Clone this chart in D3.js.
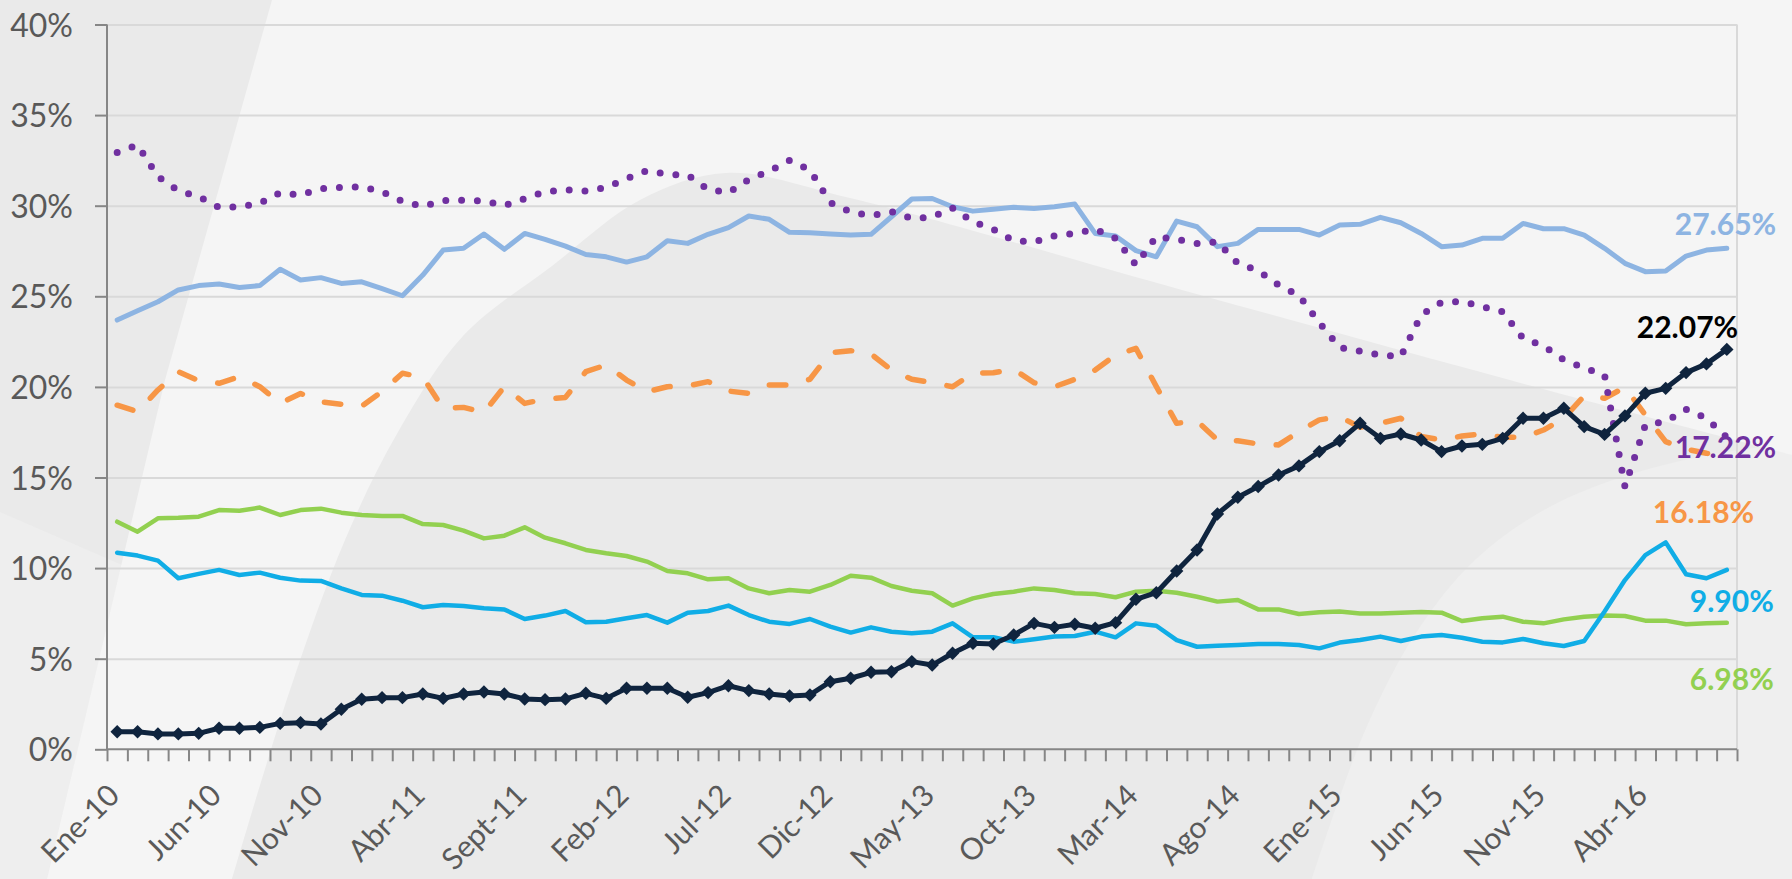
<!DOCTYPE html>
<html>
<head>
<meta charset="utf-8">
<script src="https://cdn.jsdelivr.net/npm/d3@7"></script>
<style>
html, body { margin: 0; padding: 0; background: #eaeaea; overflow: hidden; }
svg { display: block; font-family: Lato, "Open Sans", sans-serif; }
</style>
</head>
<body>
<svg id="chart" width="1792" height="879"></svg>
<script>
// Monthly categories, Ene-10 .. Ago-16 (80 months)
const monthNames = ["Ene","Feb","Mar","Abr","May","Jun","Jul","Ago","Sept","Oct","Nov","Dic"];
const categories = d3.range(80).map(i => monthNames[i % 12] + "-" + (10 + Math.floor(i / 12)));
const tickLabels = ["Ene-10","Jun-10","Nov-10","Abr-11","Sept-11","Feb-12","Jul-12","Dic-12",
  "May-13","Oct-13","Mar-14","Ago-14","Ene-15","Jun-15","Nov-15","Abr-16"];
const yTicks = [0, 5, 10, 15, 20, 25, 30, 35, 40];

// series values (%)
const lightBlue = [23.69,24.2,24.7,25.35,25.59,25.68,25.49,25.59,26.49,25.9,26.03,25.71,25.8,25.42,25.03,26.17,
  27.55,27.65,28.44,27.59,28.47,28.14,27.77,27.31,27.18,26.89,27.18,28.07,27.92,28.42,28.79,29.43,29.25,28.53,
  28.51,28.44,28.38,28.42,29.39,30.37,30.4,29.94,29.7,29.81,29.91,29.85,29.94,30.09,28.47,28.33,27.52,27.18,
  29.15,28.84,27.74,27.92,28.69,28.69,28.69,28.38,28.93,28.97,29.36,29.06,28.47,27.74,27.83,28.2,28.2,29.02,
  28.73,28.73,28.38,27.65,26.82,26.36,26.39,27.22,27.55,27.65];
const purple = [32.93,33.35,31.6,30.83,30.5,29.91,29.94,30.13,30.72,30.59,30.94,31.01,31.05,30.77,30.24,29.96,
  30.28,30.31,30.26,30.0,30.39,30.77,30.88,30.81,31.01,31.49,31.93,31.73,31.69,30.9,30.72,31.45,31.91,32.5,
  31.97,30.17,29.65,29.45,29.67,29.3,29.37,29.87,29.12,28.7,28.07,28.0,28.34,28.47,28.7,28.2,26.73,28.29,
  28.14,27.92,28.0,26.82,26.41,25.62,25.05,23.55,22.17,21.98,21.76,21.67,23.97,24.67,24.71,24.43,24.15,22.68,
  22.26,21.49,21.05,20.66,14.5,17.9,18.08,18.76,18.27,17.22];
const orange = [18.99,18.63,19.83,20.84,20.34,20.2,20.56,20.01,19.09,19.64,19.18,19.04,18.94,19.74,20.75,20.53,
  18.82,18.87,18.59,20.01,19.09,19.33,19.42,20.84,21.21,20.38,19.73,20.01,20.05,20.29,19.77,19.64,20.1,20.1,
  20.42,21.89,22.0,21.81,20.93,20.42,20.23,20.01,20.75,20.78,20.97,20.23,20.01,20.42,20.93,21.76,22.13,20.02,
  17.99,18.12,17.07,17.03,16.85,16.8,17.53,18.18,18.36,17.77,17.99,18.27,17.26,17.07,17.29,17.4,17.22,17.22,
  17.62,18.27,19.5,19.37,19.98,18.45,16.98,16.56,16.34,16.18];
const navy = [0.97,0.97,0.85,0.85,0.88,1.16,1.16,1.21,1.43,1.47,1.4,2.21,2.76,2.85,2.85,3.05,
  2.81,3.05,3.16,3.05,2.78,2.74,2.78,3.09,2.81,3.37,3.37,3.37,2.87,3.13,3.51,3.24,3.05,2.94,
  3.0,3.73,3.92,4.25,4.28,4.84,4.65,5.3,5.85,5.81,6.31,6.95,6.73,6.9,6.68,6.99,8.28,8.64,
  9.84,11.0,12.99,13.91,14.5,15.14,15.64,16.43,17.03,17.99,17.16,17.4,17.07,16.43,16.74,16.83,17.16,18.27,
  18.27,18.82,17.81,17.38,18.4,19.65,19.92,20.79,21.27,22.07];
const cyan = [10.85,10.69,10.41,9.44,9.68,9.9,9.62,9.75,9.47,9.31,9.29,8.88,8.52,8.48,8.2,7.84,
  7.96,7.91,7.78,7.72,7.19,7.38,7.63,7.01,7.04,7.23,7.41,6.99,7.54,7.63,7.93,7.41,7.04,6.92,
  7.19,6.77,6.44,6.73,6.49,6.4,6.49,6.95,6.18,6.18,5.94,6.07,6.22,6.25,6.49,6.18,6.95,6.82,
  6.03,5.66,5.72,5.76,5.81,5.81,5.76,5.57,5.89,6.03,6.22,5.98,6.22,6.31,6.16,5.94,5.9,6.09,
  5.85,5.7,5.98,7.6,9.34,10.72,11.42,9.66,9.44,9.9];
const green = [12.56,12.01,12.75,12.78,12.84,13.2,13.17,13.34,12.93,13.2,13.28,13.06,12.93,12.88,12.88,12.43,
  12.38,12.07,11.64,11.79,12.25,11.68,11.37,11.0,10.82,10.67,10.36,9.84,9.71,9.38,9.44,8.88,8.61,8.79,
  8.7,9.07,9.58,9.47,9.01,8.75,8.61,7.93,8.33,8.57,8.7,8.88,8.79,8.61,8.57,8.39,8.7,8.75,
  8.64,8.42,8.15,8.24,7.72,7.72,7.47,7.56,7.6,7.5,7.5,7.54,7.58,7.54,7.08,7.23,7.32,7.04,
  6.95,7.17,7.32,7.38,7.36,7.1,7.1,6.9,6.95,6.98];

// drawing order and styles (bottom to top)
const series = [
  { values: green,     color: "#92D050", width: 4.5 },
  { values: cyan,      color: "#10ADE6", width: 4.5 },
  { values: lightBlue, color: "#8DB4E2", width: 5 },
  { values: orange,    color: "#F79646", width: 5.5, dash: "16.5 23.5" },
  { values: purple,    color: "#7030A0", width: 7, dash: "0 15.8" },
  { values: navy,      color: "#0F243E", width: 5, marker: true }
];
// end-of-line labels: offsets from the last point
const endLabels = [
  { values: lightBlue, color: "#8DB4E2", dx: -52, dy: -13 },
  { values: navy,      color: "#000000", dx: -90, dy: -11 },
  { values: purple,    color: "#7030A0", dx: -52, dy: 21 },
  { values: orange,    color: "#F79646", dx: -74, dy: 67 },
  { values: cyan,      color: "#10ADE6", dx: -37, dy: 42 },
  { values: green,     color: "#92D050", dx: -37, dy: 67 }
];

const svg = d3.select("#chart");
const W = 1792, H = 879;
const plotLeft = 107, plotRight = 1737, plotTop = 24.5, plotBottom = 749.3;

// ---- background shapes (slide decoration) ----
const bg = svg.append("g");
const smooth = d3.line().curve(d3.curveCatmullRom.alpha(0.5));
bg.append("rect").attr("width", W).attr("height", H).attr("fill", "#eaeaea");
bg.append("path")
  .attr("d", "M0,512 L122,565 L47,879 L0,879 Z")
  .attr("fill", "#eeeeee");
const arc = smooth([[1312,879],[1364,733],[1416,633],[1475,560],[1544,510],[1613,480],[1699,457],[1792,443]]);
bg.append("path")
  .attr("d", arc + " L1792,879 Z")
  .attr("fill", "#efefef");
const hill = smooth([
  [1792,455],[1528,385],[1200,295],[850,198],[726,173],[640,200],[552,266],[463,336],
  [398,432],[345,540],[290,690],[232,879]
]);
bg.append("path")
  .attr("d", "M272,0 L1792,0 " + hill.replace(/^M/, "L") + " L47,879 L110,613 L165,380 Z")
  .attr("fill", "#f5f5f5");

// ---- scales ----
const xEdge = d3.scaleLinear().domain([0, categories.length]).range([plotLeft, plotRight]);
const xc = i => xEdge(i + 0.5);
const y = d3.scaleLinear().domain([0, 40]).range([plotBottom, plotTop]);

// gridlines
svg.append("g")
  .attr("transform", `translate(${plotLeft},0)`)
  .call(d3.axisLeft(y).tickValues(yTicks.slice(1)).tickSize(-(plotRight - plotLeft)).tickFormat(""))
  .call(g => g.select(".domain").remove())
  .call(g => g.selectAll("line").attr("stroke", "#d9d9d9").attr("stroke-width", 2));
svg.append("line")
  .attr("x1", plotRight).attr("x2", plotRight).attr("y1", plotTop).attr("y2", plotBottom)
  .attr("stroke", "#d9d9d9").attr("stroke-width", 2);

// y axis
svg.append("g")
  .attr("transform", `translate(${plotLeft},0)`)
  .call(d3.axisLeft(y).tickValues(yTicks).tickSize(12).tickPadding(22).tickFormat(d => d + "%"))
  .call(g => g.select(".domain").attr("stroke", "#868686").attr("stroke-width", 2).attr("d", `M0,${plotTop}V${plotBottom}`))
  .call(g => g.selectAll("line").attr("stroke", "#868686").attr("stroke-width", 2))
  .call(g => g.selectAll("text").attr("fill", "#595959").attr("font-size", 32)
    .attr("font-family", "Lato, sans-serif").attr("dy", "0.36em"));

// x axis (ticks between categories)
svg.append("g")
  .attr("transform", `translate(0,${plotBottom})`)
  .call(d3.axisBottom(xEdge).tickValues(d3.range(categories.length + 1)).tickSize(12).tickFormat(""))
  .call(g => g.select(".domain").attr("stroke", "#868686").attr("stroke-width", 2).attr("d", `M${plotLeft},0H${plotRight}`))
  .call(g => g.selectAll("line").attr("stroke", "#868686").attr("stroke-width", 2));

svg.append("g").selectAll("text")
  .data(tickLabels)
  .join("text")
  .attr("transform", d => `translate(${xc(categories.indexOf(d)) + 4},${plotBottom + 48}) rotate(-45)`)
  .attr("text-anchor", "end")
  .attr("font-size", 30)
  .attr("fill", "#595959")
  .text(d => d);

// ---- lines ----
const line = d3.line().x((d, i) => xc(i)).y(d => y(d));
const plot = svg.append("g");
series.forEach(s => {
  plot.append("path")
    .attr("d", line(s.values))
    .attr("fill", "none")
    .attr("stroke", s.color)
    .attr("stroke-width", s.width)
    .attr("stroke-linejoin", "round")
    .attr("stroke-linecap", "round")
    .attr("stroke-dasharray", s.dash || null);
  if (s.marker) {
    const sym = d3.symbol().type(d3.symbolSquare).size(90);
    plot.append("g").selectAll("path")
      .data(s.values)
      .join("path")
      .attr("d", sym)
      .attr("transform", (d, i) => `translate(${xc(i)},${y(d)}) rotate(45)`)
      .attr("fill", s.color);
  }
});

// ---- end labels ----
svg.append("g").selectAll("text")
  .data(endLabels)
  .join("text")
  .attr("x", d => xc(d.values.length - 1) + d.dx)
  .attr("y", d => y(d.values[d.values.length - 1]) + d.dy)
  .attr("fill", d => d.color)
  .attr("font-size", 30)
  .attr("font-weight", 700)
  .text(d => d.values[d.values.length - 1].toFixed(2) + "%");
</script>
</body>
</html>
